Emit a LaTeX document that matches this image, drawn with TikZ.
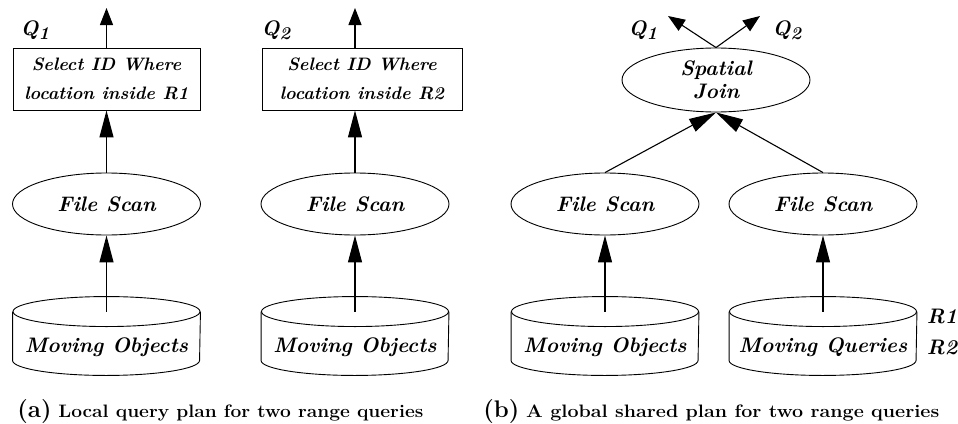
\documentclass[tikz,border=0pt]{standalone}
\usepackage{fontspec}
\usepackage{graphicx}
\usetikzlibrary{shapes.geometric,arrows.meta}
\newcommand\qname[1]{Q\raisebox{-4pt}{\fontsize{18}{18}\selectfont #1}}
\newcommand\drum[1]{%
	\draw (#1.north west) -- (#1.south west) arc[start angle=180, end angle=360, x radius=93.5pt, y radius=15pt] -- (#1.north east);
	\draw (#1.north) ellipse[x radius=93.5pt, y radius=15pt];}
\begin{document}
\begin{tikzpicture}[x=1pt, y=-1pt, line width=0.9pt,
	lbl/.style = {font=\fontsize{21}{23}\selectfont\bfseries\itshape},
	scan/.style = {draw, ellipse, minimum width=188pt, minimum height=62pt, inner sep=0pt, lbl},
	sel/.style = {draw, rectangle, minimum height=62pt, inner sep=0pt, align=center, font=\fontsize{18}{29}\selectfont\bfseries\itshape},
	store/.style = {rectangle, minimum width=187pt, minimum height=48pt, inner sep=0pt, text height=32pt, text depth=0pt, lbl},
	big/.style = {-{Triangle[length=27pt,width=14pt]}, line width=1.1pt},
	small/.style = {-{Triangle[length=17pt,width=13pt]}, line width=1.1pt},
	capt/.style = {anchor=base west, inner sep=0pt, font=\fontsize{18}{20}\selectfont\bfseries}]

	\useasboundingbox (0,0) rectangle (958,423);

	% (a) local plans
	\node[sel, minimum width=187pt] (sel1) at (106.5,79) {Select ID Where\\location inside R1};
	\node[sel, minimum width=200pt] (sel2) at (362,79) {Select ID Where\\location inside R2};
	\node[scan] (fs1) at (106.5,204) {File Scan};
	\node[scan] (fs2) at (355,204) {File Scan};
	\node[store] (mo1) at (106.5,336) {Moving Objects};
	\node[store] (mo2) at (355,336) {Moving Objects};
	\drum{mo1}
	\drum{mo2}
	\node[lbl] (q1) at (35,30) {\qname{1}};
	\node[lbl] (q2) at (276,30) {\qname{2}};
	\coordinate (out1) at (106.5,8);
	\coordinate (out2) at (355,8);

	\draw[small] (sel1) -- (out1);
	\draw[small] (sel2.north -| out2) -- (out2);
	\draw[big] (fs1) -- (sel1);
	\draw[big] (fs2.north) -- (fs2.north |- sel2.south);
	\draw[big] (mo1.north) -- (fs1);
	\draw[big] (mo2.north) -- (fs2);

	% (b) shared plan
	\node[draw, ellipse, minimum width=188pt, minimum height=64pt, inner sep=0pt, align=center, lbl] (join) at (716,80) {Spatial\\Join};
	\node[scan] (fs3) at (605,204) {File Scan};
	\node[scan] (fs4) at (823,204) {File Scan};
	\node[store] (mo3) at (605,336) {Moving Objects};
	\node[store] (mq) at (823,336) {Moving Queries};
	\drum{mo3}
	\drum{mq}
	\node[lbl] (q3) at (643,30) {\qname{1}};
	\node[lbl] (q4) at (787,30) {\qname{2}};
	\node[lbl] (r1) at (942,316) {R1};
	\node[lbl] (r2) at (942,347) {R2};
	\coordinate (out3) at (668,16);
	\coordinate (out4) at (760,16);

	\draw[small] (join.north) -- (out3);
	\draw[small] (join.north) -- (out4);
	\draw[big] (fs3.north) -- (join.south);
	\draw[big] (fs4.north) -- (join.south);
	\draw[big] (mo3.north) -- (fs3);
	\draw[big] (mq.north) -- (fs4);

	\node[capt] (capa) at (17,417) {{\fontsize{24}{24}\selectfont (a)} \resizebox{365pt}{\height}{Local query plan for two range queries}};
	\node[capt] (capb) at (483,417) {{\fontsize{24}{24}\selectfont (b)} \resizebox{413pt}{\height}{A global shared plan for two range queries}};
\end{tikzpicture}
\end{document}
